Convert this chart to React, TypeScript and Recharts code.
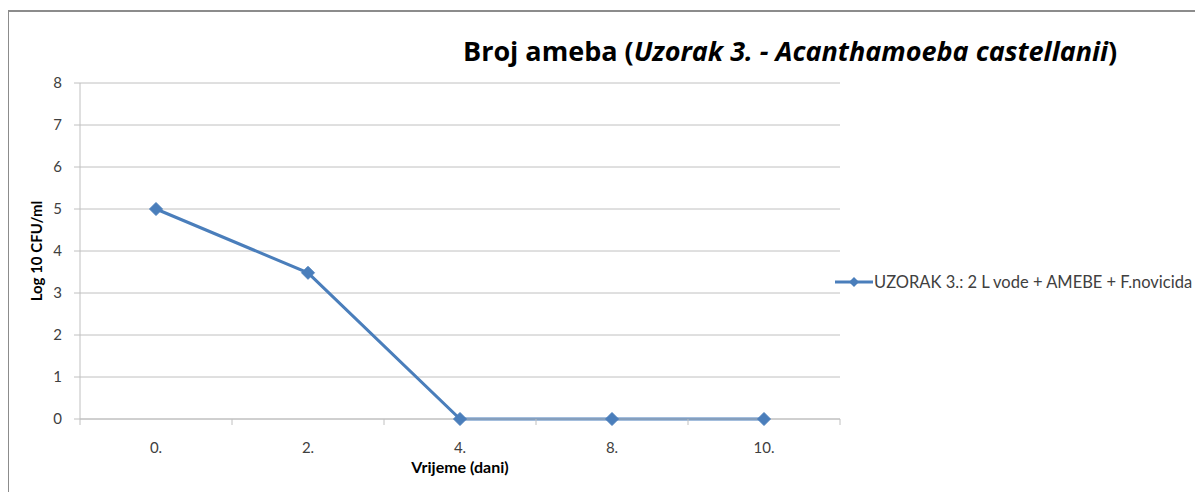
import { LineChart, Line, XAxis, YAxis, CartesianGrid } from "recharts";

const days = ["0.", "2.", "4.", "8.", "10."];
const amoebaLog = [5, 3.48, 0, 0, 0];
const yTicks = [0, 1, 2, 3, 4, 5, 6, 7, 8];
const seriesName = "UZORAK 3.: 2 L vode + AMEBE + F.novicida";

const data = days.map((d, i) => ({ x: i, day: d, value: amoebaLog[i] }));
// centre ticks carry labels, half-step ticks are the category boundaries
const xTicks = days.flatMap((_, i) => (i === 0 ? [i - 0.5, i, i + 0.5] : [i, i + 0.5]));

const FONT = "Lato, 'Noto Sans', sans-serif";
const BLUE = "#4a7ebb";
const GRID = "#c0c0c0";
const BORDER = "#8c8c8c";

function XTick(props: any) {
  const { x, y, payload } = props;
  const v = payload.value as number;
  if (Number.isInteger(v)) {
    return (
      <text x={x} y={y + 34} textAnchor="middle" fontSize={15} fill="#404040" fontFamily={FONT}>
        {days[v]}
      </text>
    );
  }
  return <line x1={x} x2={x} y1={y} y2={y + 6} stroke={GRID} />;
}

function Diamond(props: any) {
  const { cx, cy } = props;
  if (cx == null || cy == null) return null;
  const r = 6.5;
  return (
    <path
      d={`M${cx},${cy - r}L${cx + r},${cy}L${cx},${cy + r}L${cx - r},${cy}Z`}
      fill={BLUE}
      stroke={BLUE}
    />
  );
}

export default function App() {
  return (
    <div style={{ position: "relative", marginLeft: -8, marginTop: -8, width: 1203, height: 492, background: "#fff", overflow: "hidden" }}>
      <div style={{ position: "absolute", left: 0, top: 0 }}>
        <LineChart width={1203} height={492} data={data} margin={{ top: 83, right: 363, bottom: 0, left: 0 }}>
          <CartesianGrid vertical={false} stroke={GRID} />
          <XAxis
            dataKey="x"
            type="number"
            domain={[-0.5, 4.5]}
            ticks={xTicks}
            interval={0}
            tickLine={false}
            tickSize={0}
            tickMargin={0}
            tick={<XTick />}
            axisLine={{ stroke: GRID }}
            height={73}
          />
          <YAxis
            type="number"
            domain={[0, 8]}
            ticks={yTicks}
            interval={0}
            tickSize={6}
            tickMargin={12}
            tickLine={{ stroke: GRID }}
            axisLine={{ stroke: GRID }}
            tick={{ fontSize: 15, fill: "#404040", fontFamily: FONT }}
            width={80}
          />
          <Line
            type="linear"
            dataKey="value"
            name={seriesName}
            stroke={BLUE}
            strokeWidth={3}
            dot={<Diamond />}
            activeDot={false}
            isAnimationActive={false}
          />
        </LineChart>
      </div>
      <div style={{ position: "absolute", left: 7, top: 10, width: 2, height: 500, background: BORDER }} />
      <div style={{ position: "absolute", left: 7, top: 10, width: 1300, height: 2, background: BORDER }} />
      <div
        style={{
          position: "absolute",
          left: 463,
          top: 32,
          fontFamily: "'Open Sans', sans-serif",
          fontWeight: 700,
          fontSize: 27,
          color: "#000",
          whiteSpace: "nowrap",
        }}
      >
        Broj ameba (<i>Uzorak 3. - Acanthamoeba castellanii</i>)
      </div>
      <div
        style={{
          position: "absolute",
          left: 36,
          top: 251,
          transform: "translate(-50%, -50%) rotate(-90deg)",
          fontFamily: FONT,
          fontWeight: 700,
          fontSize: 15,
          whiteSpace: "nowrap",
        }}
      >
        Log 10 CFU/ml
      </div>
      <div
        style={{
          position: "absolute",
          left: 460,
          top: 466,
          transform: "translate(-50%, -50%)",
          fontFamily: FONT,
          fontWeight: 700,
          fontSize: 16,
          whiteSpace: "nowrap",
        }}
      >
        Vrijeme (dani)
      </div>
      <div
        style={{
          position: "absolute",
          left: 835,
          top: 272,
          display: "flex",
          alignItems: "center",
          fontFamily: FONT,
          fontSize: 16.5,
          color: "#404040",
        }}
      >
        <svg width={38} height={14}>
          <line x1={0} x2={38} y1={7} y2={7} stroke={BLUE} strokeWidth={3} />
          <path d="M19,2L24,7L19,12L14,7Z" fill={BLUE} />
        </svg>
        <span style={{ marginLeft: 1, whiteSpace: "nowrap" }}>{seriesName}</span>
      </div>
    </div>
  );
}
